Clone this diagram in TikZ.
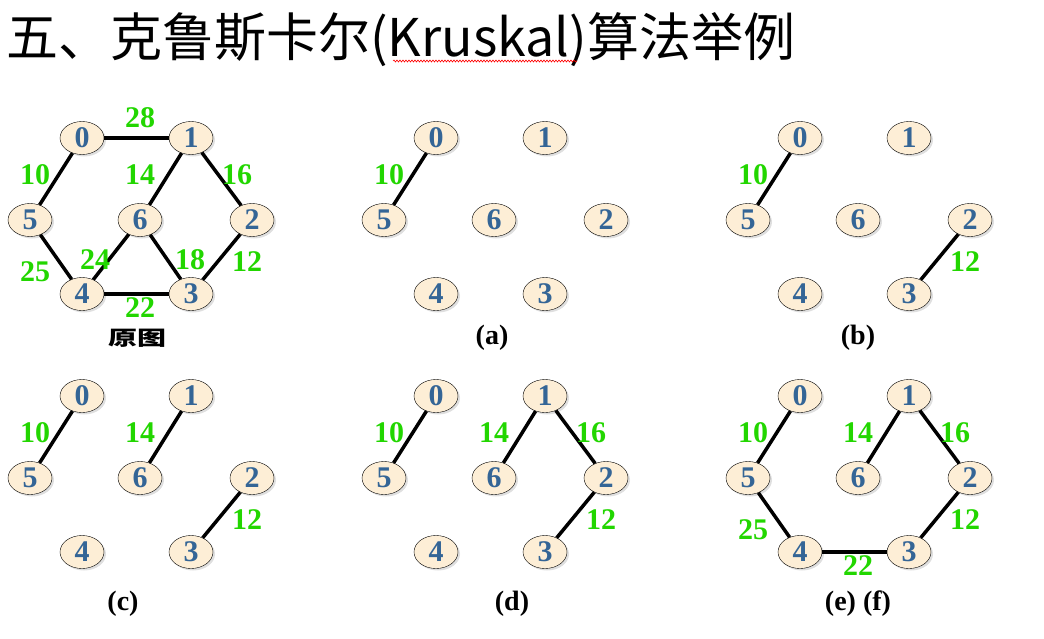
\documentclass[tikz,border=0pt]{standalone}
\usepackage{fontspec}
\setmainfont{Liberation Serif}
\newfontfamily\cjk{Noto Sans CJK SC}
\definecolor{numblue}{RGB}{52, 101, 150}
\definecolor{wtgreen}{RGB}{34, 214, 0}
\definecolor{vtxfill}{RGB}{253, 238, 214}
\usetikzlibrary{shapes.geometric, shadows, decorations.pathmorphing}

\begin{document}
\begin{tikzpicture}[x=1pt, y=-1pt,
  vtx/.style={ellipse, draw=black, fill=vtxfill, minimum width=44pt, minimum height=33pt, inner sep=0pt,
    text=numblue, font=\bfseries\fontsize{30}{30}\selectfont,
    drop shadow={opacity=0.25, shadow xshift=2pt, shadow yshift=-2pt}},
  link/.style={line width=3.5pt},
  wt/.style={text=wtgreen, inner sep=0pt, font=\bfseries\fontsize{30}{30}\selectfont},
  panelcap/.style={inner sep=0pt, font=\bfseries\fontsize{28}{28}\selectfont}]
  \useasboundingbox (0,0) rectangle (1044,638);

  % Title
  \node[anchor=west, inner sep=0pt, font=\cjk\fontsize{52}{52}\selectfont] (title) at (6,40) {五、克鲁斯卡尔(Kruskal)算法举例};
  \draw[red, line width=0.6pt, decorate, decoration={snake, amplitude=1pt, segment length=3pt}] (393,61) -- (577,61);

  % Original graph
  \begin{scope}
    \node[vtx] (o0) at (82,138) {0};
    \node[vtx] (o1) at (191,138) {1};
    \node[vtx] (o5) at (30,220) {5};
    \node[vtx] (o6) at (140,220) {6};
    \node[vtx] (o2) at (252,220) {2};
    \node[vtx] (o4) at (82,294) {4};
    \node[vtx] (o3) at (191,294) {3};
    \draw[link] (o0) -- (o1);
    \draw[link] (o0) -- (o5);
    \draw[link] (o1) -- (o6);
    \draw[link] (o1) -- (o2);
    \draw[link] (o5) -- (o4);
    \draw[link] (o6) -- (o4);
    \draw[link] (o6) -- (o3);
    \draw[link] (o2) -- (o3);
    \draw[link] (o4) -- (o3);
    \node[wt] (o28) at (140,118) {28};
    \node[wt] (o10) at (35,175) {10};
    \node[wt] (o14) at (140,175) {14};
    \node[wt] (o16) at (237,175) {16};
    \node[wt] (o25) at (35,272) {25};
    \node[wt] (o24) at (95,260) {24};
    \node[wt] (o18) at (190,260) {18};
    \node[wt] (o12) at (247,262) {12};
    \node[wt] (o22) at (140,308) {22};
  \end{scope}
  \node[inner sep=0pt, font=\cjk\bfseries\fontsize{20}{20}\selectfont] (capo) at (137,338) {\scalebox{1.45}[1]{原图}};

  % (a)
  \begin{scope}[shift={(354,0)}]
    \node[vtx] (a0) at (82,138) {0};
    \node[vtx] (a1) at (191,138) {1};
    \node[vtx] (a5) at (30,220) {5};
    \node[vtx] (a6) at (140,220) {6};
    \node[vtx] (a2) at (252,220) {2};
    \node[vtx] (a4) at (82,294) {4};
    \node[vtx] (a3) at (191,294) {3};
    \draw[link] (a0) -- (a5);
    \node[wt] (a10) at (35,175) {10};
  \end{scope}
  \node[panelcap] (capa) at (492,338) {(a)};

  % (b)
  \begin{scope}[shift={(718,0)}]
    \node[vtx] (b0) at (82,138) {0};
    \node[vtx] (b1) at (191,138) {1};
    \node[vtx] (b5) at (30,220) {5};
    \node[vtx] (b6) at (140,220) {6};
    \node[vtx] (b2) at (252,220) {2};
    \node[vtx] (b4) at (82,294) {4};
    \node[vtx] (b3) at (191,294) {3};
    \draw[link] (b0) -- (b5);
    \draw[link] (b2) -- (b3);
    \node[wt] (b10) at (35,175) {10};
    \node[wt] (b12) at (247,262) {12};
  \end{scope}
  \node[panelcap] (capb) at (858,338) {(b)};

  % (c)
  \begin{scope}[shift={(0,258)}]
    \node[vtx] (c0) at (82,138) {0};
    \node[vtx] (c1) at (191,138) {1};
    \node[vtx] (c5) at (30,220) {5};
    \node[vtx] (c6) at (140,220) {6};
    \node[vtx] (c2) at (252,220) {2};
    \node[vtx] (c4) at (82,294) {4};
    \node[vtx] (c3) at (191,294) {3};
    \draw[link] (c0) -- (c5);
    \draw[link] (c1) -- (c6);
    \draw[link] (c2) -- (c3);
    \node[wt] (c10) at (35,175) {10};
    \node[wt] (c14) at (140,175) {14};
    \node[wt] (c12) at (247,262) {12};
  \end{scope}
  \node[panelcap] (capc) at (123,604) {(c)};

  % (d)
  \begin{scope}[shift={(354,258)}]
    \node[vtx] (d0) at (82,138) {0};
    \node[vtx] (d1) at (191,138) {1};
    \node[vtx] (d5) at (30,220) {5};
    \node[vtx] (d6) at (140,220) {6};
    \node[vtx] (d2) at (252,220) {2};
    \node[vtx] (d4) at (82,294) {4};
    \node[vtx] (d3) at (191,294) {3};
    \draw[link] (d0) -- (d5);
    \draw[link] (d1) -- (d6);
    \draw[link] (d1) -- (d2);
    \draw[link] (d2) -- (d3);
    \node[wt] (d10) at (35,175) {10};
    \node[wt] (d14) at (140,175) {14};
    \node[wt] (d16) at (237,175) {16};
    \node[wt] (d12) at (247,262) {12};
  \end{scope}
  \node[panelcap] (capd) at (512,604) {(d)};

  % (e) (f)
  \begin{scope}[shift={(718,258)}]
    \node[vtx] (e0) at (82,138) {0};
    \node[vtx] (e1) at (191,138) {1};
    \node[vtx] (e5) at (30,220) {5};
    \node[vtx] (e6) at (140,220) {6};
    \node[vtx] (e2) at (252,220) {2};
    \node[vtx] (e4) at (82,294) {4};
    \node[vtx] (e3) at (191,294) {3};
    \draw[link] (e0) -- (e5);
    \draw[link] (e1) -- (e6);
    \draw[link] (e1) -- (e2);
    \draw[link] (e2) -- (e3);
    \draw[link] (e5) -- (e4);
    \draw[link] (e4) -- (e3);
    \node[wt] (e10) at (35,175) {10};
    \node[wt] (e14) at (140,175) {14};
    \node[wt] (e16) at (237,175) {16};
    \node[wt] (e25) at (35,272) {25};
    \node[wt] (e12) at (247,262) {12};
    \node[wt] (e22) at (140,308) {22};
  \end{scope}
  \node[panelcap] (cape) at (858,604) {(e) (f)};
\end{tikzpicture}
\end{document}
